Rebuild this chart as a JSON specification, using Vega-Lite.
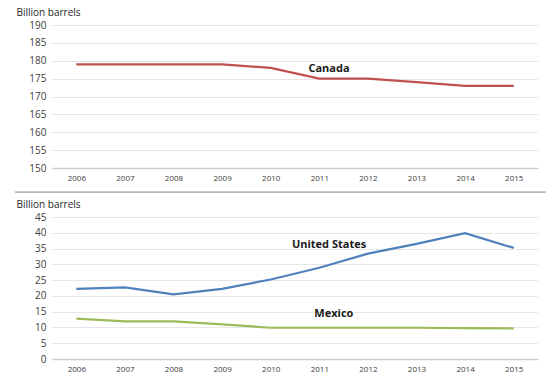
{
  "$schema": "https://vega.github.io/schema/vega-lite/v6.json",
  "background": "white",
  "padding": {"left": 14, "top": 7, "right": 5, "bottom": 5},
  "spacing": 9,
  "config": {
    "font": "Open Sans",
    "view": {"stroke": null},
    "axisY": {
      "domain": false,
      "ticks": false,
      "grid": true,
      "gridColor": "#cccccc",
      "gridDash": [1, 1],
      "gridWidth": 1,
      "labelColor": "#404040",
      "labelFontSize": 10,
      "labelPadding": 6,
      "labelOverlap": false,
      "labelBound": false,
      "titleAngle": 0,
      "titleAlign": "left",
      "titleBaseline": "bottom",
      "titleX": -36,
      "titleY": -8,
      "titleFontSize": 10,
      "titleFontWeight": "normal",
      "titleColor": "#262626"
    },
    "axisX": {
      "domain": true,
      "domainColor": "#d0d0d0",
      "domainWidth": 1.5,
      "ticks": false,
      "grid": false,
      "labelColor": "#404040",
      "labelFontSize": 8,
      "labelPadding": 6,
      "labelOverlap": false,
      "title": null
    }
  },
  "datasets": {
    "reserves": [
      {"year": 2006, "country": "Canada", "value": 179},
      {"year": 2007, "country": "Canada", "value": 179},
      {"year": 2008, "country": "Canada", "value": 179},
      {"year": 2009, "country": "Canada", "value": 179},
      {"year": 2010, "country": "Canada", "value": 178},
      {"year": 2011, "country": "Canada", "value": 175},
      {"year": 2012, "country": "Canada", "value": 175},
      {"year": 2013, "country": "Canada", "value": 174},
      {"year": 2014, "country": "Canada", "value": 173},
      {"year": 2015, "country": "Canada", "value": 173},
      {"year": 2006, "country": "United States", "value": 22.2},
      {"year": 2007, "country": "United States", "value": 22.7},
      {"year": 2008, "country": "United States", "value": 20.5},
      {"year": 2009, "country": "United States", "value": 22.2},
      {"year": 2010, "country": "United States", "value": 25.2},
      {"year": 2011, "country": "United States", "value": 28.9},
      {"year": 2012, "country": "United States", "value": 33.4},
      {"year": 2013, "country": "United States", "value": 36.5},
      {"year": 2014, "country": "United States", "value": 39.9},
      {"year": 2015, "country": "United States", "value": 35.2},
      {"year": 2006, "country": "Mexico", "value": 12.8},
      {"year": 2007, "country": "Mexico", "value": 11.9},
      {"year": 2008, "country": "Mexico", "value": 11.9},
      {"year": 2009, "country": "Mexico", "value": 11.0},
      {"year": 2010, "country": "Mexico", "value": 9.9},
      {"year": 2011, "country": "Mexico", "value": 9.9},
      {"year": 2012, "country": "Mexico", "value": 9.9},
      {"year": 2013, "country": "Mexico", "value": 9.9},
      {"year": 2014, "country": "Mexico", "value": 9.8},
      {"year": 2015, "country": "Mexico", "value": 9.7}
    ],
    "labels": [
      {"label": "Canada", "panel": "top", "year": 2011.2, "value": 177.7},
      {"label": "United States", "panel": "bottom", "year": 2011.2, "value": 36.2},
      {"label": "Mexico", "panel": "bottom", "year": 2011.3, "value": 14.3}
    ]
  },
  "vconcat": [
    {
      "width": 486,
      "height": 143,
      "encoding": {
        "x": {
          "field": "year",
          "type": "quantitative",
          "scale": {"domain": [2005.5, 2015.5], "nice": false, "zero": false},
          "axis": {"values": [2006, 2007, 2008, 2009, 2010, 2011, 2012, 2013, 2014, 2015], "format": "d"}
        },
        "y": {
          "field": "value",
          "type": "quantitative",
          "scale": {"domain": [150, 190], "nice": false, "zero": false},
          "axis": {"title": "Billion barrels", "values": [150, 155, 160, 165, 170, 175, 180, 185, 190]}
        }
      },
      "layer": [
        {
          "data": {"name": "reserves"},
          "transform": [{"filter": "datum.country === 'Canada'"}],
          "mark": {"type": "line", "color": "#C0504D", "strokeWidth": 2.2}
        },
        {
          "data": {"name": "labels"},
          "transform": [{"filter": "datum.panel === 'top'"}],
          "mark": {"type": "text", "fontWeight": "bold", "fontSize": 11, "color": "#1a1a1a"},
          "encoding": {
            "text": {"field": "label"}
          }
        }
      ]
    },
    {
      "width": 486,
      "height": 142,
      "layer": [
        {
          "data": {"values": [{}]},
          "mark": {"type": "rule", "color": "#808080", "strokeWidth": 1},
          "encoding": {
            "x": {
              "datum": 2004.74,
              "type": "quantitative",
              "scale": {"domain": [2005.5, 2015.5], "nice": false, "zero": false},
              "axis": {"values": [2006, 2007, 2008, 2009, 2010, 2011, 2012, 2013, 2014, 2015], "format": "d"}
            },
            "x2": {"datum": 2015.66},
            "y": {
              "datum": 52.9,
              "type": "quantitative",
              "scale": {"domain": [0, 45], "nice": false},
              "axis": {"title": "Billion barrels", "values": [0, 5, 10, 15, 20, 25, 30, 35, 40, 45]}
            }
          }
        },
        {
          "data": {"name": "reserves"},
          "transform": [{"filter": "datum.country !== 'Canada'"}],
          "mark": {"type": "line", "strokeWidth": 2.2},
          "encoding": {
            "x": {
              "field": "year",
              "type": "quantitative",
              "scale": {"domain": [2005.5, 2015.5], "nice": false, "zero": false},
              "axis": {"values": [2006, 2007, 2008, 2009, 2010, 2011, 2012, 2013, 2014, 2015], "format": "d"}
            },
            "y": {
              "field": "value",
              "type": "quantitative",
              "scale": {"domain": [0, 45], "nice": false},
              "axis": {"title": "Billion barrels", "values": [0, 5, 10, 15, 20, 25, 30, 35, 40, 45]}
            },
            "color": {
              "field": "country",
              "type": "nominal",
              "scale": {"domain": ["United States", "Mexico"], "range": ["#4F81BD", "#9BBB59"]},
              "legend": null
            }
          }
        },
        {
          "data": {"name": "labels"},
          "transform": [{"filter": "datum.panel === 'bottom'"}],
          "mark": {"type": "text", "fontWeight": "bold", "fontSize": 11, "color": "#1a1a1a"},
          "encoding": {
            "x": {
              "field": "year",
              "type": "quantitative",
              "scale": {"domain": [2005.5, 2015.5], "nice": false, "zero": false},
              "axis": {"values": [2006, 2007, 2008, 2009, 2010, 2011, 2012, 2013, 2014, 2015], "format": "d"}
            },
            "y": {
              "field": "value",
              "type": "quantitative",
              "scale": {"domain": [0, 45], "nice": false},
              "axis": {"title": "Billion barrels", "values": [0, 5, 10, 15, 20, 25, 30, 35, 40, 45]}
            },
            "text": {"field": "label"}
          }
        }
      ]
    }
  ]
}
